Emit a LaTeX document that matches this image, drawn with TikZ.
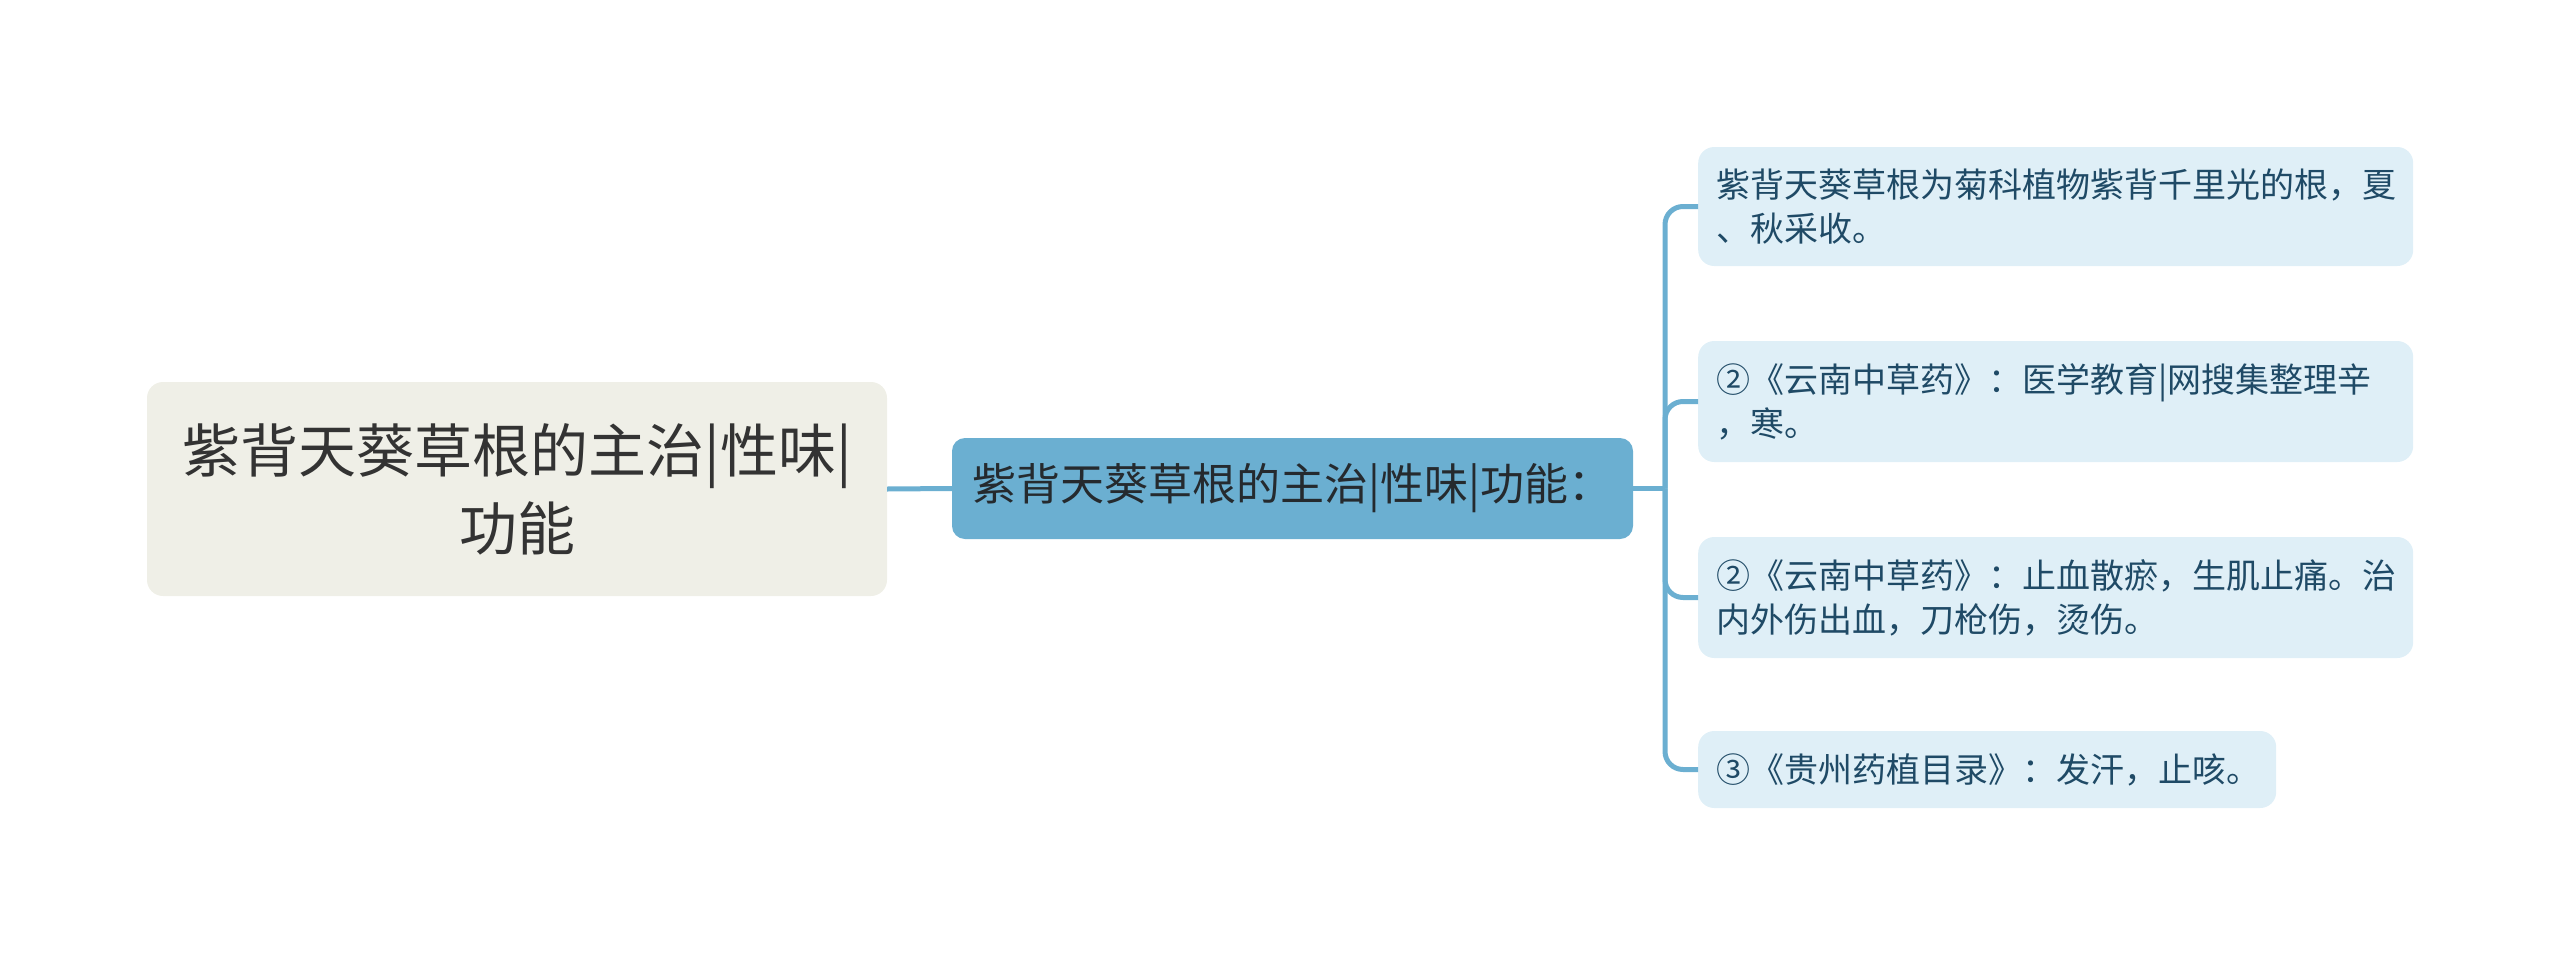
\documentclass[tikz,border=0pt]{standalone}
\usepackage{fontspec}
\newfontfamily\cjk{Noto Sans CJK SC}
\definecolor{rootfill}{HTML}{EFEFE7}
\definecolor{roottext}{HTML}{333333}
\definecolor{midfill}{HTML}{6BAFD1}
\definecolor{midtext}{HTML}{252A2E}
\definecolor{leaffill}{HTML}{DFEFF7}
\definecolor{leaftext}{HTML}{1F4A66}
\definecolor{linkcol}{HTML}{6BAFD1}
\tikzset{
  rootbox/.style={rectangle, rounded corners=16pt, fill=rootfill, text=roottext, inner sep=0pt,
    minimum width=740pt, minimum height=214pt, align=center,
    font=\cjk\fontsize{58pt}{78pt}\selectfont},
  midbox/.style={rectangle, rounded corners=13pt, fill=midfill, text=midtext, inner sep=0pt,
    minimum width=681pt, minimum height=101pt, align=center,
    font=\cjk\fontsize{44pt}{52pt}\selectfont},
  leafbox/.style={rectangle, rounded corners=16pt, fill=leaffill, text=leaftext,
    inner xsep=18pt, inner ysep=0pt, align=left, anchor=west,
    font=\cjk\fontsize{34pt}{44pt}\selectfont},
  link/.style={draw=linkcol, line width=5pt},
}
\begin{document}
\begin{tikzpicture}[x=1pt,y=-1pt]
\useasboundingbox (0,0) rectangle (2560,956);
\node[rootbox] (root) at (517,489) {紫背天葵草根的主治|性味|\\功能};
\node[midbox] (mid) at (1292.5,488.5) {紫背天葵草根的主治|性味|功能：};
\node[leafbox, text width=679pt, minimum height=119pt] (l1) at (1698,206.5)
  {紫背天葵草根为菊科植物紫背千里光的根，夏\\、秋采收。};
\node[leafbox, text width=679pt, minimum height=121pt] (l2) at (1698,401.5)
  {②《云南中草药》：医学教育|网搜集整理辛\\，寒。};
\node[leafbox, text width=679pt, minimum height=121pt] (l3) at (1698,597.5)
  {②《云南中草药》：止血散瘀，生肌止痛。治\\内外伤出血，刀枪伤，烫伤。};
\node[leafbox, text width=542pt, minimum height=77pt] (l4) at (1698,769.5)
  {③《贵州药植目录》：发汗，止咳。};
\coordinate (trunk) at (1665,488.5);
\draw[link] (root.east) -- (mid.west);
\draw[link] (mid.east) -- (trunk);
\foreach \c in {l1,l2,l3,l4}{
  \draw[link, rounded corners=18pt] (trunk) |- (\c.west);
}
\end{tikzpicture}
\end{document}
